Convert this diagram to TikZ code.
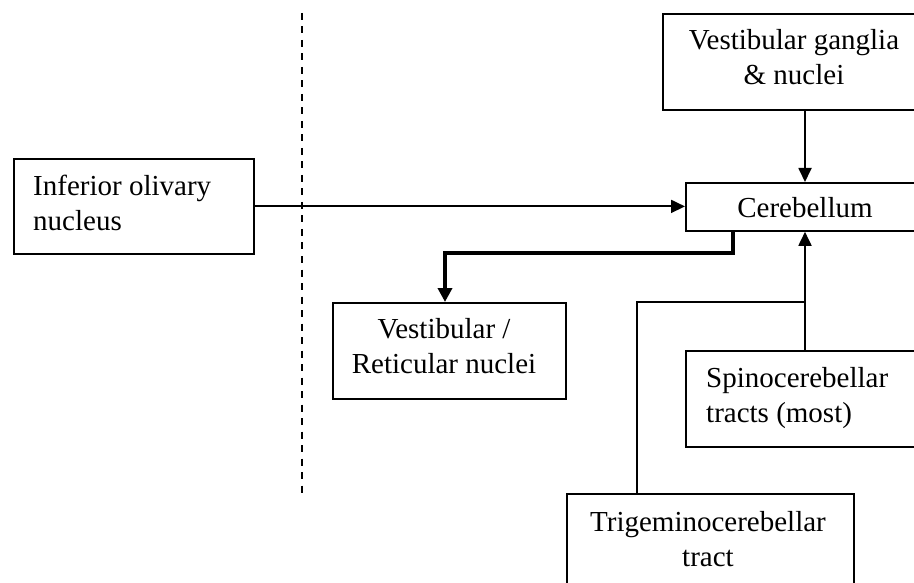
\documentclass[tikz,border=0pt]{standalone}
\usepackage{fontspec}
\setmainfont{Liberation Serif}
\usetikzlibrary{arrows.meta}
\begin{document}
\begin{tikzpicture}[x=1pt,y=-1pt,
  box/.style={draw, line width=1.8pt, inner sep=0pt, anchor=north west},
  lbl/.style={font=\fontsize{29}{35}\selectfont, inner sep=0pt},
  wire/.style={line width=1.8pt},
  conn/.style={wire, -{Triangle[width=13pt,length=14pt]}},
  boldconn/.style={line width=4.2pt, -{Triangle[width=14pt,length=14pt]}},
  divider/.style={line width=2pt, dash pattern=on 7pt off 6.5pt}
]
\useasboundingbox (0,0) rectangle (914,583);
\clip (0,0) rectangle (914,583);

% boxes
\node[box, minimum width=264pt, minimum height=96pt] (vgn) at (662,13) {};
\node[box, minimum width=240pt, minimum height=48pt] (cer) at (685,182) {};
\node[box, minimum width=240pt, minimum height=95pt] (ion) at (13,158) {};
\node[box, minimum width=233pt, minimum height=96pt] (vrn) at (332,302) {};
\node[box, minimum width=240pt, minimum height=96pt] (spc) at (685,350) {};
\node[box, minimum width=287pt, minimum height=120pt] (tri) at (566,493) {};

% box texts (multi-line texts are anchored at the baseline of their last line)
\node[lbl, align=center, anchor=base] (vgnt) at (794,85) {Vestibular ganglia\\\& nuclei};
\node[lbl, anchor=base] (cert) at (805,218) {Cerebellum};
\node[lbl, align=left, anchor=base west] (iont) at (33,230) {Inferior olivary\\nucleus};
\node[lbl, align=center, anchor=base] (vrnt) at (444,373) {Vestibular /\\Reticular nuclei};
\node[lbl, align=left, anchor=base west] (spct) at (706,422) {Spinocerebellar\\tracts (most)};
\node[lbl, align=center, anchor=base] (trit) at (708,566) {Trigeminocerebellar\\tract};

% routing coordinates
\coordinate (xv) at (805,0);
\coordinate (xt) at (733,0);
\coordinate (xr) at (445,0);
\coordinate (xtri) at (637,0);
\coordinate (yb) at (0,253);
\coordinate (yj) at (0,302);
\coordinate (dtop) at (302,13);
\coordinate (dbot) at (302,494);

% midline divider
\draw[divider] (dtop) -- (dbot);

% connectors
\draw[conn] (vgn.south -| xv) -- (cer.north -| xv);
\draw[conn] (ion.east) -- (ion.east -| cer.west);
\draw[boldconn] (cer.south -| xt) -- (xt |- yb) -- (xr |- yb) -- (vrn.north -| xr);
\draw[conn] (spc.north -| xv) -- (cer.south -| xv);
\draw[wire] (tri.north -| xtri) -- (xtri |- yj) -- (xv |- yj);
\end{tikzpicture}
\end{document}
